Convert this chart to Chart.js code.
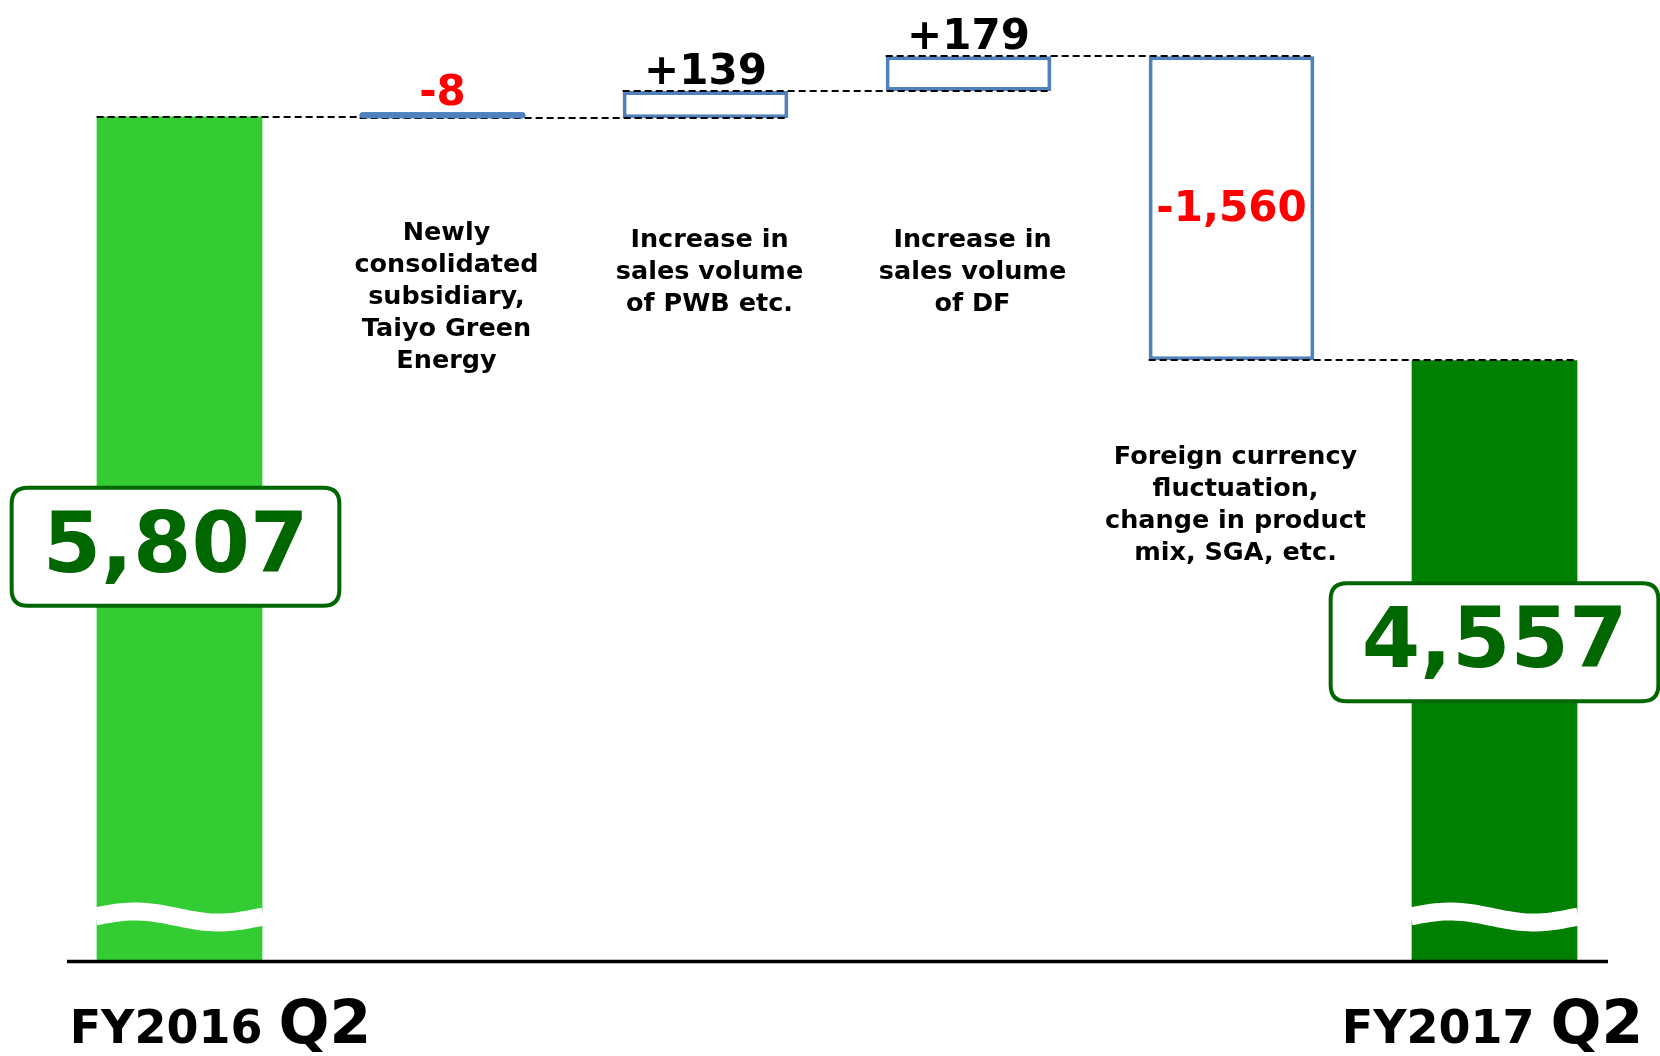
<!DOCTYPE html>
<html>
<head>
<meta charset="utf-8">
<script src="https://cdn.jsdelivr.net/npm/chart.js@4.4.0/dist/chart.umd.min.js"></script>
<style>
  html, body { margin: 0; padding: 0; background: #fff; }
  #wrap { width: 1660px; height: 1056px; position: relative; }
</style>
</head>
<body>
<div id="wrap"><canvas id="chart"></canvas></div>
<script>
// Données du graphique
const categories = ['FY2016 Q2', 'Newly consolidated subsidiary, Taiyo Green Energy', 'Increase in sales volume of PWB etc.', 'Increase in sales volume of DF', 'Foreign currency fluctuation, change in product mix, SGA, etc.', 'FY2017 Q2'];
const startValue = 5807;
const changes = [-8, 139, 179, -1560];
const endValue = 4557;
const valueLabels = ['5,807', '-8', '+139', '+179', '-1,560', '4,557'];
const descLines = [
    [],
    ['Newly', 'consolidated', 'subsidiary,', 'Taiyo Green', 'Energy'],
    ['Increase in', 'sales volume', 'of PWB etc.'],
    ['Increase in', 'sales volume', 'of DF'],
    ['Foreign currency', 'fluctuation,', 'change in product', 'mix, SGA, etc.'],
    []
];
const periodLabels = [['FY2016', 'Q2'], ['FY2017', 'Q2']];

// Mise en page des textes
const FONT = "'DejaVu Sans', Verdana, sans-serif";
const descTop = [0, 233, 240, 240, 457, 0];
const boxPos = [0.51, 0, 0, 0, 0, 0.47];

// Barres flottantes de la cascade
const barData = [startValue];
let running = startValue;
changes.forEach(c => {
    barData.push([running, running + c]);
    running += c;
});
barData.push(endValue);

function roundRect(ctx, x, y, w, h, r) {
    ctx.beginPath();
    ctx.moveTo(x + r, y);
    ctx.lineTo(x + w - r, y);
    ctx.quadraticCurveTo(x + w, y, x + w, y + r);
    ctx.lineTo(x + w, y + h - r);
    ctx.quadraticCurveTo(x + w, y + h, x + w - r, y + h);
    ctx.lineTo(x + r, y + h);
    ctx.quadraticCurveTo(x, y + h, x, y + h - r);
    ctx.lineTo(x, y + r);
    ctx.quadraticCurveTo(x, y, x + r, y);
    ctx.closePath();
}

const waterfallPlugin = {
    id: 'waterfall',
    afterDatasetsDraw(chart) {
        const ctx = chart.ctx;
        const meta = chart.getDatasetMeta(0);
        const yScale = chart.scales.y;
        const area = chart.chartArea;
        const bars = meta.data;
        const last = bars.length - 1;

        ctx.save();

        // Coupures ondulées sur les barres de total
        [0, last].forEach(i => {
            const b = bars[i];
            const left = b.x - b.width / 2 - 1;
            const w = b.width + 2;
            const cy = area.bottom - 43;
            ctx.beginPath();
            for (let k = 0; k <= 40; k++) {
                const t = k / 40;
                const yy = cy - 5.5 * Math.sin(2 * Math.PI * t + 0.1);
                if (k === 0) ctx.moveTo(left + t * w, yy);
                else ctx.lineTo(left + t * w, yy);
            }
            ctx.strokeStyle = '#fff';
            ctx.lineWidth = 18;
            ctx.stroke();
        });

        // Lignes de liaison pointillées
        ctx.setLineDash([7, 4]);
        ctx.lineWidth = 2.2;
        ctx.strokeStyle = '#000';
        let level = startValue;
        for (let i = 0; i < last; i++) {
            const a = bars[i], b = bars[i + 1];
            const py = Math.round(yScale.getPixelForValue(level));
            ctx.beginPath();
            ctx.moveTo(a.x - a.width / 2, py);
            ctx.lineTo(b.x + b.width / 2, py);
            ctx.stroke();
            if (i < changes.length) level += changes[i];
        }
        ctx.setLineDash([]);

        // Les très petites variations restent au-dessus des pointillés
        changes.forEach((c, j) => {
            const b = bars[j + 1];
            if (Math.abs(b.base - b.y) < 10) b.draw(ctx, area);
        });

        // Ligne de base
        ctx.beginPath();
        ctx.moveTo(area.left + 19, area.bottom + 1.5);
        ctx.lineTo(area.right - 18, area.bottom + 1.5);
        ctx.lineWidth = 3.5;
        ctx.strokeStyle = '#000';
        ctx.stroke();

        // Valeurs des variations
        ctx.textAlign = 'center';
        changes.forEach((c, j) => {
            const b = bars[j + 1];
            const top = Math.min(b.y, b.base);
            ctx.fillStyle = c < 0 ? '#FF0000' : '#000';
            ctx.font = 'bold 42px ' + FONT;
            if (Math.abs(b.base - b.y) > 150) {
                ctx.textBaseline = 'middle';
                ctx.fillText(valueLabels[j + 1], b.x, (b.y + b.base) / 2 + 2);
            } else {
                ctx.textBaseline = 'alphabetic';
                ctx.fillText(valueLabels[j + 1], b.x, top - 7);
            }
        });

        // Descriptions
        ctx.font = 'bold 25.5px ' + FONT;
        ctx.fillStyle = '#000';
        ctx.textBaseline = 'middle';
        descLines.forEach((lines, i) => {
            lines.forEach((line, k) => {
                ctx.fillText(line, bars[i].x + 4, descTop[i] + k * 32);
            });
        });

        // Cadres des totaux
        [0, last].forEach(i => {
            const b = bars[i];
            ctx.font = 'bold 84px ' + FONT;
            const tw = ctx.measureText(valueLabels[i]).width;
            const bw = tw + 62;
            const bh = 118;
            const cx = b.x - (i === 0 ? 4 : 0);
            const cy = b.y + (area.bottom - b.y) * boxPos[i];
            roundRect(ctx, cx - bw / 2, cy - bh / 2, bw, bh, 16);
            ctx.fillStyle = '#fff';
            ctx.fill();
            ctx.lineWidth = 4;
            ctx.strokeStyle = '#006600';
            ctx.stroke();
            ctx.fillStyle = '#006600';
            ctx.textBaseline = 'middle';
            ctx.fillText(valueLabels[i], cx, cy + 3);
        });

        // Libellés des périodes
        ctx.textBaseline = 'alphabetic';
        const baseY = area.bottom + 83;
        [[0, 'left'], [last, 'right']].forEach(([i, side], n) => {
            const b = bars[i];
            const [p1, p2] = periodLabels[n];
            ctx.font = 'bold 46px ' + FONT;
            const w1 = ctx.measureText(p1 + ' ').width;
            ctx.font = 'bold 60px ' + FONT;
            const w2 = ctx.measureText(p2).width;
            const x0 = side === 'left' ? b.x - b.width / 2 - 27 : b.x + b.width / 2 + 66 - (w1 + w2);
            ctx.textAlign = 'left';
            ctx.fillStyle = '#000';
            ctx.font = 'bold 46px ' + FONT;
            ctx.fillText(p1 + ' ', x0, baseY);
            ctx.font = 'bold 60px ' + FONT;
            ctx.fillText(p2, x0 + w1, baseY);
        });

        ctx.restore();
    }
};

new Chart(document.getElementById('chart'), {
    type: 'bar',
    data: {
        labels: categories,
        datasets: [{
            data: barData,
            backgroundColor: ['#33CC33', '#4F81BD', '#FFFFFF', '#FFFFFF', '#FFFFFF', '#008000'],
            borderColor: ['#33CC33', '#4F81BD', '#4F81BD', '#4F81BD', '#4F81BD', '#008000'],
            borderWidth: [0, 0, 4, 4, 4, 0],
            borderRadius: [0, 3, 0, 0, 0, 0],
            borderSkipped: false,
            minBarLength: 6,
            barPercentage: 0.63,
            categoryPercentage: 1
        }]
    },
    options: {
        responsive: true,
        maintainAspectRatio: false,
        animation: false,
        layout: { padding: { left: 48, right: 34, top: 0, bottom: 96 } },
        plugins: {
            legend: { display: false },
            tooltip: { enabled: false }
        },
        scales: {
            x: { display: false },
            y: { display: false, min: 1482, max: 6405 }
        }
    },
    plugins: [waterfallPlugin]
});
</script>
</body>
</html>
